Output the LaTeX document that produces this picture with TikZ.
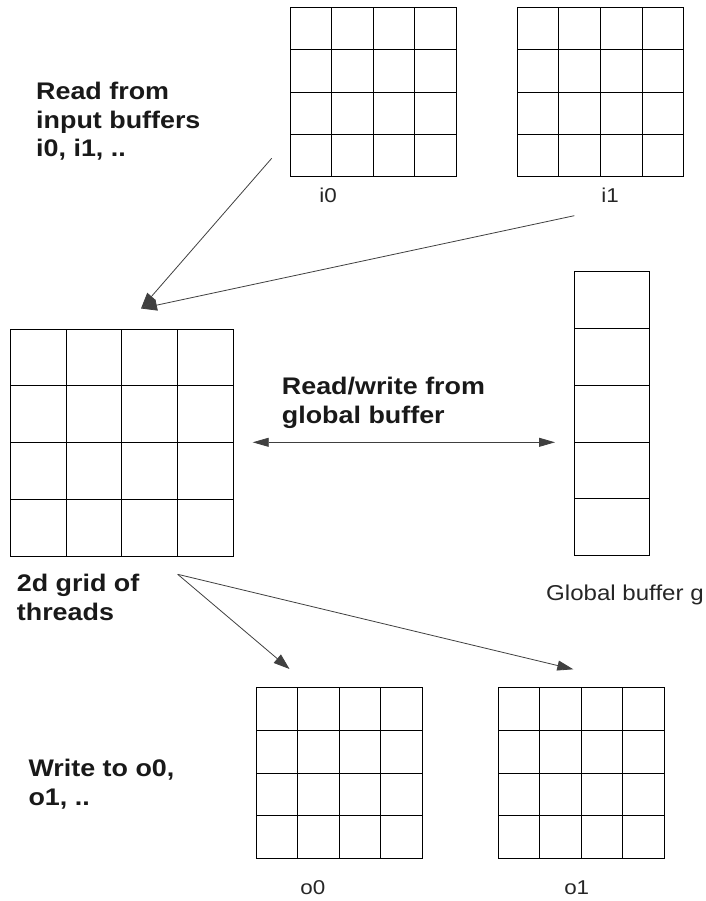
\documentclass[tikz,border=0pt]{standalone}
\usepackage{fontspec}
\setmainfont{Liberation Sans}[FakeStretch=1.12]
\usetikzlibrary{arrows.meta,calc}
\begin{document}
\begin{tikzpicture}[x=1pt,y=-1pt,
  gridbox/.style={draw=black,line width=1pt,inner sep=0pt,outer sep=0pt,anchor=north west,fill=white},
  bigtext/.style={font=\fontsize{24}{28.4}\selectfont\bfseries,align=left,anchor=base west,inner sep=0pt,text=black!90},
  lbl/.style={font=\fontsize{20}{24}\selectfont,anchor=base,inner sep=0pt,text=black!85},
  conn/.style={draw=black!75,line width=0.8pt},
  tip/.style={-{Triangle[length=16pt,width=11pt]}},
]
\useasboundingbox[fill=white] (0,0) rectangle (705,901);

% grids
\node[gridbox,minimum width=166.5pt,minimum height=169.7pt] (i0) at (290,7.3) {};
\node[gridbox,minimum width=166.4pt,minimum height=169.7pt] (i1) at (517.3,7.3) {};
\node[gridbox,minimum width=223pt,minimum height=227pt] (T) at (10.3,329) {};
\node[gridbox,minimum width=75pt,minimum height=284pt] (g) at (574.3,271.7) {};
\node[gridbox,minimum width=166pt,minimum height=170.6pt] (o0) at (256.3,687.7) {};
\node[gridbox,minimum width=166pt,minimum height=170.6pt] (o1) at (498.3,687.7) {};

\foreach \n in {i0,i1,T,o0,o1}{
  \foreach \k in {1,2,3}{
    \draw[line width=1pt] ($(\n.north west)!\k/4!(\n.north east)$) -- ($(\n.south west)!\k/4!(\n.south east)$);
    \draw[line width=1pt] ($(\n.north west)!\k/4!(\n.south west)$) -- ($(\n.north east)!\k/4!(\n.south east)$);
  }
}
\foreach \k in {1,2,3,4}{
  \draw[line width=1pt] ($(g.north west)!\k/5!(g.south west)$) -- ($(g.north east)!\k/5!(g.south east)$);
}

% labels
\node[lbl] (li0) at (328,202.7) {i0};
\node[lbl] (li1) at (610,202.7) {i1};
\node[lbl] (lo0) at (312.8,894.3) {o0};
\node[lbl] (lo1) at (576.7,894.3) {o1};
\node[font=\fontsize{21.5}{26}\selectfont,anchor=base west,inner sep=0pt,text=black!85] (lg) at (546,600) {Global buffer g};

% big texts (anchored at the baseline of their last line)
\node[bigtext] (tread) at (36,156.7) {Read from\\input buffers\\i0, i1, ..};
\node[bigtext] (trw) at (281.7,423) {Read/write from\\global buffer};
\node[bigtext] (tgrid) at (16.7,620) {2d grid of\\threads};
\node[bigtext] (twrite) at (28.3,805) {Write to o0,\\o1, ..};

% connector end points
\coordinate (s0) at (271.7,158.3);
\coordinate (s1) at (574.3,215.7);
\coordinate (tin) at (141,308.5);
\coordinate (rwl) at (252.7,442.3);
\coordinate (rwr) at (555,442.3);
\coordinate (sg) at (177.7,574.3);
\coordinate (to0) at (289.5,669);
\coordinate (to1) at (573.3,669.3);

\draw[conn,tip] (s0) -- (tin);
\draw[conn,tip] (s1) -- (tin);
\draw[conn,{Triangle[length=16pt,width=9pt]}-{Triangle[length=16pt,width=9pt]}] (rwl) -- (rwr);
\draw[conn,tip] (sg) -- (to0);
\draw[conn,-{Triangle[length=16pt,width=10pt]}] (sg) -- (to1);
\end{tikzpicture}
\end{document}
